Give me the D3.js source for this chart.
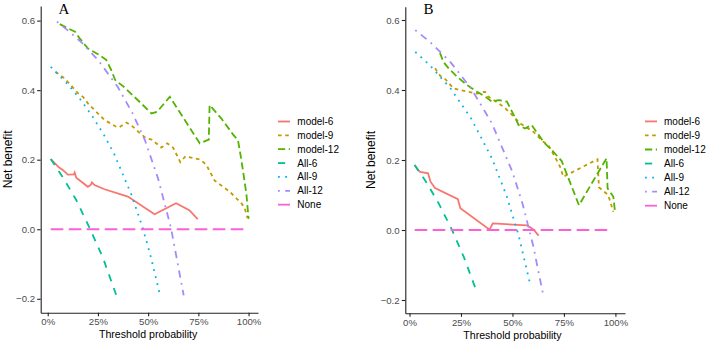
<!DOCTYPE html>
<html lang="en">
  <head>
    <meta charset="UTF-8" />
    <title>Decision curves</title>
    <script src="https://d3js.org/d3.v7.min.js"></script>
    <style>
      body {
        margin: 0;
        background: #fff;
        font-family: "Liberation Sans", Arial, sans-serif;
      }
      .tick text {
        fill: #4d4d4d;
        font-size: 9.6px;
      }
      .axis path,
      .axis line {
        stroke: #222;
        stroke-width: 1.1;
      }
      .curve {
        fill: none;
        stroke-width: 1.8;
      }
    </style>
  </head>
  <body>
    <div id="chart"></div>
    <script>
      // series names, legend order
      const seriesNames = ["model-6", "model-9", "model-12", "All-6", "All-9", "All-12", "None"];
      const xTicks = [0, 0.25, 0.5, 0.75, 1];
      const yTicks = [-0.2, 0, 0.2, 0.4, 0.6];

      // panel A: [threshold, net benefit]
      const model6A = [[0.015,0.202],[0.035,0.19],[0.055,0.178],[0.076,0.17],[0.1,0.157],[0.13,0.158],[0.134,0.163],[0.142,0.148],[0.2,0.122],[0.215,0.128],[0.22,0.135],[0.233,0.127],[0.283,0.115],[0.399,0.094],[0.532,0.043],[0.639,0.075],[0.705,0.055],[0.747,0.029]];
      const model9A = [[0.038,0.453],[0.084,0.434],[0.151,0.391],[0.177,0.38],[0.2,0.362],[0.283,0.314],[0.341,0.295],[0.355,0.293],[0.392,0.307],[0.424,0.295],[0.459,0.276],[0.49,0.262],[0.517,0.258],[0.566,0.235],[0.595,0.247],[0.624,0.235],[0.66,0.193],[0.686,0.21],[0.76,0.2],[0.79,0.185],[0.831,0.14],[0.906,0.108],[0.964,0.075],[0.98,0.062],[0.995,0.032]];
      const model12A = [[0.06,0.59],[0.1,0.578],[0.136,0.568],[0.159,0.549],[0.2,0.52],[0.258,0.501],[0.291,0.487],[0.316,0.458],[0.336,0.429],[0.382,0.408],[0.449,0.371],[0.517,0.333],[0.545,0.338],[0.608,0.381],[0.757,0.247],[0.802,0.258],[0.806,0.357],[0.864,0.319],[0.922,0.273],[0.947,0.257],[0.964,0.2],[0.989,0.103],[1.0,0.03]];
      const all6A = [[0.015,0.202],[0.08,0.145],[0.142,0.084],[0.209,0.003],[0.275,-0.082],[0.341,-0.189]];
      const all9A = [[0.015,0.467],[0.1,0.417],[0.159,0.376],[0.22,0.327],[0.283,0.268],[0.329,0.219],[0.415,0.102],[0.473,0.004],[0.515,-0.083],[0.556,-0.182]];
      const all12A = [[0.046,0.597],[0.1,0.572],[0.167,0.538],[0.25,0.487],[0.349,0.409],[0.42,0.336],[0.483,0.258],[0.55,0.145],[0.614,0.003],[0.677,-0.19]];
      const noneA = [[0.015,0],[0.975,0]];

      // panel B
      const model6B = [[0.025,0.186],[0.04,0.172],[0.052,0.166],[0.09,0.162],[0.102,0.138],[0.124,0.12],[0.235,0.088],[0.247,0.062],[0.389,0.001],[0.404,0.019],[0.572,0.013],[0.603,0.001],[0.627,-0.016]];
      const model9B = [[0.124,0.462],[0.15,0.44],[0.174,0.431],[0.213,0.405],[0.245,0.4],[0.328,0.39],[0.367,0.395],[0.38,0.382],[0.433,0.362],[0.465,0.348],[0.498,0.329],[0.536,0.305],[0.601,0.281],[0.65,0.252],[0.674,0.243],[0.706,0.209],[0.731,0.181],[0.747,0.152],[0.763,0.157],[0.913,0.202],[0.92,0.122],[0.965,0.1],[0.99,0.052]];
      const model12B = [[0.148,0.506],[0.165,0.48],[0.19,0.462],[0.222,0.443],[0.279,0.414],[0.328,0.395],[0.368,0.381],[0.4,0.367],[0.433,0.371],[0.473,0.367],[0.506,0.329],[0.53,0.3],[0.561,0.29],[0.593,0.3],[0.633,0.267],[0.65,0.252],[0.698,0.224],[0.739,0.197],[0.823,0.071],[0.957,0.205],[0.962,0.119],[0.99,0.095],[0.998,0.052]];
      const all6B = [[0.025,0.186],[0.08,0.138],[0.14,0.078],[0.206,0.001],[0.265,-0.079],[0.323,-0.171]];
      const all9B = [[0.028,0.509],[0.1,0.47],[0.2,0.404],[0.3,0.318],[0.4,0.205],[0.47,0.1],[0.53,-0.015],[0.586,-0.155]];
      const all12B = [[0.028,0.571],[0.1,0.537],[0.2,0.479],[0.3,0.404],[0.4,0.305],[0.5,0.166],[0.55,0.073],[0.6,-0.043],[0.651,-0.19]];
      const noneB = [[0.025,0],[0.973,0]];

      const colors = ["#F8766D", "#C49A00", "#53B400", "#00C094", "#00B6EB", "#A58AFF", "#FB61D7"];
      const dashes = [null, "3.6,3.6", "7.2,3.6", "7.2,7.2", "1.8,5.4", "1.8,5.4,7.2,5.4", "12.6,5.4"];

      const panels = [
        {
          label: "A", labelX: 58.5, labelY: 14,
          series: [model6A, model9A, model12A, all6A, all9A, all12A, noneA],
          xDomain: [-0.035, 1.047], xRange: [40.7, 258],
          yDomain: [-0.24, 0.642], yRange: [312.7, 6],
          yTitleX: 12, xTitleY: 338,
          legendKeyX: 278, legendTextX: 297.3, legendY: 121.5, legendStep: 13.86,
        },
        {
          label: "B", labelX: 423.5, labelY: 14,
          series: [model6B, model9B, model12B, all6B, all9B, all12B, noneB],
          xDomain: [-0.0204, 1.0466], xRange: [405.3, 625],
          yDomain: [-0.238, 0.638], yRange: [313.3, 6.7],
          yTitleX: 375, xTitleY: 339,
          legendKeyX: 645, legendTextX: 664, legendY: 121.4, legendStep: 14.05,
        },
      ];

      const svg = d3
        .select("#chart")
        .append("svg")
        .attr("width", 708)
        .attr("height", 346);

      panels.forEach((p) => {
        const x = d3.scaleLinear().domain(p.xDomain).range(p.xRange);
        const y = d3.scaleLinear().domain(p.yDomain).range(p.yRange);
        const g = svg.append("g");

        const line = d3
          .line()
          .x((d) => x(d[0]))
          .y((d) => y(d[1]));

        p.series.forEach((s, i) => {
          g.append("path")
            .attr("class", "curve")
            .attr("d", line(s))
            .attr("stroke", colors[i])
            .attr("stroke-dasharray", dashes[i]);
        });

        g.append("g")
          .attr("class", "axis")
          .attr("transform", `translate(0,${p.yRange[0]})`)
          .call(
            d3.axisBottom(x)
              .tickValues(xTicks)
              .tickFormat(d3.format(".0%"))
              .tickSize(3.5)
              .tickSizeOuter(0)
              .tickPadding(2.2)
          );

        g.append("g")
          .attr("class", "axis")
          .attr("transform", `translate(${p.xRange[0]},0)`)
          .call(
            d3.axisLeft(y)
              .tickValues(yTicks)
              .tickFormat(d3.format(".1f"))
              .tickSize(3.5)
              .tickSizeOuter(0)
              .tickPadding(2.2)
          );

        svg.selectAll(".axis .domain").attr("stroke-width", 1.3);
        svg.selectAll(".axis text").attr("font-family", "Liberation Sans, Arial, sans-serif");

        // panel letter
        g.append("text")
          .attr("x", p.labelX)
          .attr("y", p.labelY)
          .attr("font-family", "Liberation Serif, Times New Roman, serif")
          .attr("font-size", 15)
          .attr("fill", "#000")
          .text(p.label);

        // axis titles
        g.append("text")
          .attr("transform", `translate(${p.yTitleX},${(p.yRange[0] + p.yRange[1]) / 2}) rotate(-90)`)
          .attr("text-anchor", "middle")
          .attr("font-size", 12)
          .attr("fill", "#000")
          .text("Net benefit");

        g.append("text")
          .attr("x", (x(0) + x(1)) / 2)
          .attr("y", p.xTitleY)
          .attr("text-anchor", "middle")
          .attr("font-size", 10.6)
          .attr("fill", "#000")
          .text("Threshold probability");

        // legend
        const legend = g
          .selectAll(".legend")
          .data(seriesNames)
          .enter()
          .append("g")
          .attr("transform", (d, i) => `translate(0,${p.legendY + i * p.legendStep})`);

        legend
          .append("line")
          .attr("x1", p.legendKeyX)
          .attr("x2", p.legendKeyX + 12)
          .attr("stroke", (d, i) => colors[i])
          .attr("stroke-width", 1.8)
          .attr("stroke-dasharray", (d, i) => dashes[i]);

        legend
          .append("text")
          .attr("x", p.legendTextX)
          .attr("dy", "0.35em")
          .attr("font-size", 10)
          .attr("fill", "#000")
          .text((d) => d);
      });
    </script>
  </body>
</html>
